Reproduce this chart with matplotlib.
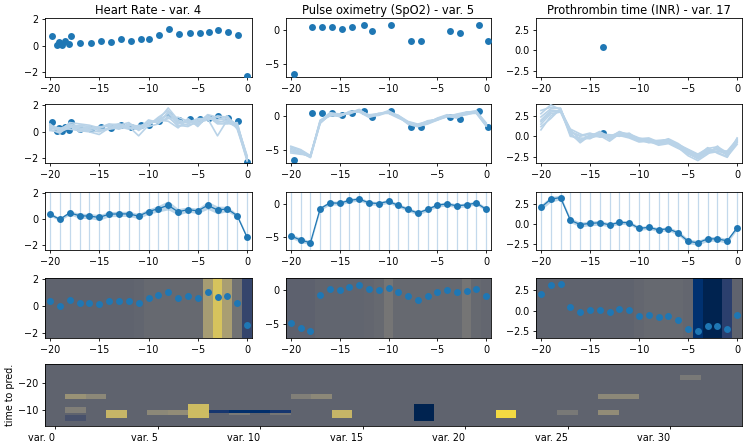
import numpy as np
import matplotlib
matplotlib.use("Agg")
import matplotlib.pyplot as plt
from matplotlib.colors import Normalize

# ---------------- data ----------------
titles = ["Heart Rate - var. 4", "Pulse oximetry (SpO2) - var. 5", "Prothrombin time (INR) - var. 17"]
steps = list(range(-20, 1))

# row 1: observed values
obs_t_hr = [-19.83, -19.3, -19.1, -18.8, -18.5, -18.1, -17.9, -16.9, -15.8, -14.8, -13.8, -12.8, -11.8,
            -10.8, -9.9, -8.9, -7.9, -6.9, -5.8, -4.8, -3.85, -2.9, -1.9, -0.9, 0.0]
obs_v_hr = [0.78, 0.08, 0.28, 0.08, 0.33, 0.15, 0.76, 0.25, 0.2, 0.4, 0.3, 0.5, 0.4,
            0.48, 0.5, 0.8, 1.3, 0.9, 0.95, 0.98, 1.04, 1.16, 1.04, 0.8, -2.25]
obs_t_spo2 = [-19.66, -17.8, -16.8, -15.76, -14.8, -13.76, -12.5, -11.66, -9.76, -7.66, -6.64, -3.7, -2.7, -0.75, 0.2]
obs_v_spo2 = [-6.6, 0.5, 0.5, 0.5, 0.2, 0.5, 0.8, -0.1, 0.8, -1.6, -1.6, -0.1, -0.4, 0.8, -1.6]
obs_t_inr = [-13.7]
obs_v_inr = [0.38]

# row 2: imputation samples
samples_hr = [
    [0.5, 0.1, 0.4, 0.2, 0.1, 0.0, 0.3, 0.5, 0.3, 0.2, 0.6, 0.9, 1.8, 0.9, 0.7, 0.8, 1.2, 0.9, 1.0, 0.5, -2.0],
    [0.3, 0.2, 0.6, 0.4, 0.3, 0.3, 0.5, 0.3, 0.6, 0.4, 0.7, 0.8, 1.4, 0.6, 0.9, 0.5, 1.1, 0.8, 0.7, 0.4, -2.1],
    [0.6, 0.0, 0.3, 0.5, 0.4, 0.2, 0.2, 0.6, 0.4, -0.3, 0.5, 1.0, 1.2, 0.4, 0.6, 0.9, 1.0, -0.3, 0.9, 0.6, -1.9],
    [0.2, -0.1, 0.5, 0.3, 0.2, 0.4, 0.4, 0.2, 0.5, 0.3, 0.8, 0.7, 1.0, 1.1, 0.8, 0.6, 1.3, 1.1, 0.8, 0.3, -2.2],
    [0.4, 0.3, 0.2, 0.1, 0.0, -0.2, 0.3, 0.4, 0.2, 0.5, 0.4, 0.6, 1.5, 0.7, 0.5, 0.7, 0.9, 1.2, 1.1, 0.5, -1.8],
    [0.1, 0.0, 0.7, 0.6, 0.5, 0.3, 0.6, 0.5, 0.7, 0.1, 0.6, 0.9, 0.8, 0.3, 1.0, 0.4, 1.2, 0.6, 0.6, 0.7, -2.1],
    [0.5, 0.2, 0.4, 0.2, 0.3, 0.1, 0.2, 0.3, 0.5, 0.4, 0.5, 1.1, 1.6, 0.8, 0.7, 1.0, 1.0, 0.9, 1.2, 0.2, -2.0],
    [0.3, 0.1, 0.5, 0.0, 0.2, 0.3, 0.5, 0.6, 0.3, 0.2, 0.9, 0.7, 1.1, 0.5, 0.4, 0.8, 1.1, 0.7, 0.9, 0.4, -1.9],
]
samples_spo2 = [
    [-4.5, -5.0, -5.9, -1.0, 0.2, 0.0, 0.5, 0.8, 0.0, 0.3, 0.6, 0.0, -0.9, -1.3, -0.9, -0.4, 0.0, 0.2, 0.5, 0.6, -1.2],
    [-4.8, -5.3, -6.1, -0.8, 0.4, 0.1, 0.6, 0.9, 0.1, 0.2, 0.7, -0.2, -1.0, -1.5, -1.0, -0.6, 0.1, -0.2, 0.3, 0.5, -1.4],
    [-5.2, -5.6, -6.0, -0.6, 0.0, 0.2, 0.4, 1.0, -0.1, 0.4, 0.5, 0.1, -0.8, -1.2, -0.8, -0.5, -0.1, 0.3, 0.6, 0.7, -1.0],
    [-5.0, -5.4, -6.2, -1.1, 0.3, -0.1, 0.7, 0.7, 0.2, 0.3, 0.8, -0.1, -1.2, -1.6, -1.1, -0.3, 0.2, 0.0, 0.4, 0.4, -1.5],
    [-5.5, -5.7, -5.8, -0.9, 0.1, 0.0, 0.5, 0.8, 0.0, 0.1, 0.6, 0.0, -1.1, -1.4, -0.7, -0.5, 0.0, -0.3, 0.5, 0.8, -1.3],
    [-4.6, -5.1, -6.0, -0.7, 0.5, 0.3, 0.3, 0.9, 0.1, 0.4, 0.4, -0.3, -0.9, -1.3, -0.9, -0.4, 0.1, 0.1, 0.2, 0.6, -1.1],
    [-5.3, -5.5, -6.1, -1.0, 0.2, 0.1, 0.6, 0.6, -0.2, 0.2, 0.7, 0.1, -1.0, -1.5, -1.2, -0.6, -0.1, -0.1, 0.6, 0.5, -1.4],
]
samples_inr = [
    [3.2, 3.6, 3.4, 0.5, 0.0, 0.3, 0.2, -0.3, 0.4, 0.2, -0.3, -0.6, -0.5, -0.4, -1.0, -1.6, -2.2, -1.5, -1.3, -2.0, -0.3],
    [2.8, 3.9, 3.3, 0.8, -0.4, 0.0, 0.6, -0.1, 0.2, 0.0, -0.4, -0.3, -0.8, -0.6, -1.2, -1.9, -2.5, -1.8, -1.6, -2.3, -0.6],
    [2.4, 3.4, 3.5, 0.2, -0.6, 0.2, -0.1, 0.0, 0.5, 0.3, -0.2, -0.5, -0.6, -0.7, -1.1, -2.1, -2.8, -2.0, -1.8, -2.2, -0.8],
    [1.8, 3.0, 3.2, 0.9, 0.3, -0.2, 0.1, -0.6, 0.3, -0.1, -0.6, -0.4, -1.0, -0.5, -1.3, -2.2, -2.6, -1.6, -2.0, -2.5, -1.0],
    [1.5, 2.8, 3.0, 0.4, -0.8, 0.1, 0.3, 0.2, 0.0, 0.4, -0.5, -0.7, -0.9, -0.8, -1.4, -2.4, -3.0, -2.2, -1.2, -2.4, -0.5],
    [0.8, 2.5, 3.3, 0.0, -0.2, -0.3, 0.4, -0.2, 0.6, 0.1, -0.3, -0.2, -0.7, -0.3, -0.9, -1.8, -2.4, -1.4, -2.1, -2.6, -0.2],
    [2.0, 3.2, 3.1, 0.6, 0.1, 0.4, 0.0, 0.1, 0.1, -0.2, -0.7, -0.6, -1.1, -0.9, -1.5, -2.0, -2.7, -1.9, -1.5, -2.1, -0.7],
    [1.2, 2.2, 3.4, 0.3, -0.5, -0.1, 0.5, -0.4, 0.3, 0.0, -0.4, -0.8, -0.6, -0.5, -1.2, -1.7, -2.3, -2.1, -1.9, -1.8, -0.4],
]

# row 3 / row 4: imputed mean and spread
mean_hr = [0.4, 0.0, 0.5, 0.28, 0.25, 0.15, 0.4, 0.42, 0.42, 0.25, 0.6, 0.82, 1.08, 0.58, 0.75, 0.65, 1.08, 0.72, 0.8, 0.28, -1.38]
std_hr = [0.15, 0.12, 0.15, 0.2, 0.2, 0.22, 0.2, 0.2, 0.2, 0.2, 0.2, 0.25, 0.35, 0.25, 0.2, 0.2, 0.3, 0.3, 0.2, 0.15, 0.15]
mean_spo2 = [-4.85, -5.5, -5.9, -0.73, 0.15, 0.1, 0.53, 0.73, 0.15, 0.05, 0.39, -0.24, -0.83, -1.4, -0.83, -0.2, 0.0, -0.3, -0.15, 0.15, -0.83]
std_spo2 = [0.35, 0.35, 0.3, 0.3, 0.3, 0.3, 0.3, 0.3, 0.3, 0.3, 0.3, 0.3, 0.3, 0.3, 0.3, 0.3, 0.3, 0.3, 0.3, 0.3, 0.3]
mean_inr = [2.05, 3.1, 3.3, 0.45, -0.1, 0.05, 0.13, -0.13, 0.18, 0.13, -0.58, -0.45, -0.76, -0.63, -1.16, -2.2, -2.4, -1.9, -1.9, -2.15, -0.5]
std_inr = [0.35, 0.35, 0.3, 0.3, 0.3, 0.3, 0.3, 0.25, 0.25, 0.25, 0.25, 0.25, 0.25, 0.25, 0.3, 0.3, 0.3, 0.3, 0.3, 0.3, 0.25]

# row 4: attribution per time step
attr_hr = [0, 0, 0, 0, 0, 0, 0, 0, 0, 0.01, 0.03, 0.03, 0.03, 0.03, 0.03, 0.03, 0.3, 0.48, 0.31, 0.08, -0.17]
attr_spo2 = [-0.01, -0.01, -0.01, 0.01, 0.01, 0.01, 0.01, 0.01, 0.02, 0.03, 0.1, 0.03, 0.03, 0.03, 0.03, 0.03, 0.03, 0.03, 0.1, 0.03, 0.02]
attr_inr = [0, 0, 0, 0, 0, 0, 0, 0, 0, 0, 0.02, 0.03, 0.03, 0.03, 0.03, 0.02, -0.28, -0.36, -0.36, -0.2, 0.0]

# bottom heatmap: (variable, time from, time to, attribution); all others are 0
heat_cells = [
    (1, -16, -14, 0.25), (2, -16, -14, 0.2),
    (1, -11, -9, 0.15), (1, -8, -6, -0.1),
    (3, -10, -7, 0.42),
    (5, -10, -8, 0.2), (6, -10, -8, 0.22),
    (7, -12, -7, 0.45),
    (8, -10, -9, -0.25), (9, -10, -9, -0.3), (10, -10, -9, -0.3), (11, -10, -9, -0.25),
    (9, -9, -8, 0.12), (11, -9, -8, 0.1),
    (12, -16, -14, 0.15), (13, -16, -14, 0.2),
    (14, -10, -7, 0.42),
    (18, -12, -6, -0.36),
    (22, -10, -7, 0.58),
    (25, -10, -8, 0.12),
    (27, -16, -14, 0.2), (28, -16, -14, 0.2), (27, -10, -8, 0.22),
    (31, -23, -21, 0.12),
]
n_vars = 34
heat_time_top, heat_time_bottom = -27, -4
var_tick_labels = ["var. 0", "var. 5", "var. 10", "var. 15", "var. 20", "var. 25", "var. 30"]

# ---------------- figure ----------------
plt.rcParams["font.family"] = "DejaVu Sans"
plt.rcParams["font.size"] = 6.9
plt.rcParams["axes.linewidth"] = 0.6
plt.rcParams["xtick.major.width"] = 0.6
plt.rcParams["ytick.major.width"] = 0.6
plt.rcParams["xtick.major.size"] = 2.4
plt.rcParams["ytick.major.size"] = 2.4
plt.rcParams["xtick.major.pad"] = 2.4
plt.rcParams["ytick.major.pad"] = 2.4

W, H = 745, 444
fig = plt.figure(figsize=(W / 100, H / 100), dpi=100)

def ax_px(x0, x1, y0, y1):
    return fig.add_axes([x0 / W, 1 - y1 / H, (x1 - x0) / W, (y1 - y0) / H])

cols_px = [(45, 252), (286, 491), (536, 742)]
rows_px = [(18, 77), (104, 163), (192, 250), (278, 338)]
ylims = [(-2.35, 2.1), (-7.0, 1.8), (-3.3, 4.0)]
yticks = [[-2, 0, 2], [-5, 0], [-2.5, 0.0, 2.5]]
ytick_fmt = ["{:.0f}", "{:.0f}", "{:.1f}"]

obs_t = [obs_t_hr, obs_t_spo2, obs_t_inr]
obs_v = [obs_v_hr, obs_v_spo2, obs_v_inr]
samples = [samples_hr, samples_spo2, samples_inr]
means = [mean_hr, mean_spo2, mean_inr]
stds = [std_hr, std_spo2, std_inr]
attrs = [attr_hr, attr_spo2, attr_inr]

cmap = plt.get_cmap("cividis")
norm = Normalize(vmin=-0.37, vmax=0.63)
C0 = "#1f77b4"
light = "#b9d3e8"
vline_c = "#c3d9ec"

for c in range(3):
    x0, x1 = cols_px[c]
    axs = [ax_px(x0, x1, r0, r1) for (r0, r1) in rows_px]
    # row 1
    a = axs[0]
    a.scatter(obs_t[c], obs_v[c], s=25, color=C0, zorder=3, lw=0)
    a.set_title(titles[c], fontsize=8.3, pad=3)
    # row 2
    a = axs[1]
    a.scatter(obs_t[c], obs_v[c], s=25, color=C0, zorder=2, lw=0)
    for s in samples[c]:
        a.plot(steps, s, color=light, lw=1.2, zorder=3)
    # row 3
    a = axs[2]
    m = np.array(means[c]); sd = np.array(stds[c])
    for t in steps:
        a.axvline(t, color=vline_c, lw=0.9, zorder=1)
    a.fill_between(steps, m - sd, m + sd, color=C0, alpha=0.3, lw=0, zorder=2)
    a.plot(steps, m, color=C0, lw=0.9, zorder=3)
    a.scatter(steps, m, s=25, color=C0, zorder=4, lw=0)
    # row 4
    a = axs[3]
    lo, hi = ylims[c]
    a.imshow(np.array(attrs[c])[None, :], cmap=cmap, norm=norm, aspect="auto",
             extent=(-20.5, 0.5, lo, hi), interpolation="nearest", zorder=1)
    a.scatter(steps, m, s=25, color=C0, zorder=3, lw=0)
    for a in axs:
        a.set_xlim(-20.5, 0.5)
        a.set_ylim(*ylims[c])
        a.set_xticks([-20, -15, -10, -5, 0])
        a.set_yticks(yticks[c])
        a.set_yticklabels([ytick_fmt[c].format(v).replace("-", "\u2212") for v in yticks[c]])

# bottom heatmap
nrows = heat_time_bottom - heat_time_top
heat = np.zeros((nrows, n_vars))
for v, t0, t1, val in heat_cells:
    r0 = int(t0 - heat_time_top)
    r1 = int(t1 - heat_time_top)
    heat[r0:r1, v] = val
hb = ax_px(45, 742, 364, 426)
hb.imshow(heat, cmap=cmap, norm=norm, aspect="auto", interpolation="nearest",
          extent=(-0.5, n_vars - 0.5, heat_time_bottom, heat_time_top))
hb.set_xticks([0, 5, 10, 15, 20, 25, 30])
hb.set_xticklabels(var_tick_labels, ha="right")
hb.set_yticks([-20, -10])
hb.set_yticklabels(["\u221220", "\u221210"])
hb.set_ylabel("time to pred.", labelpad=2)

fig.savefig("out.png", dpi=100)
